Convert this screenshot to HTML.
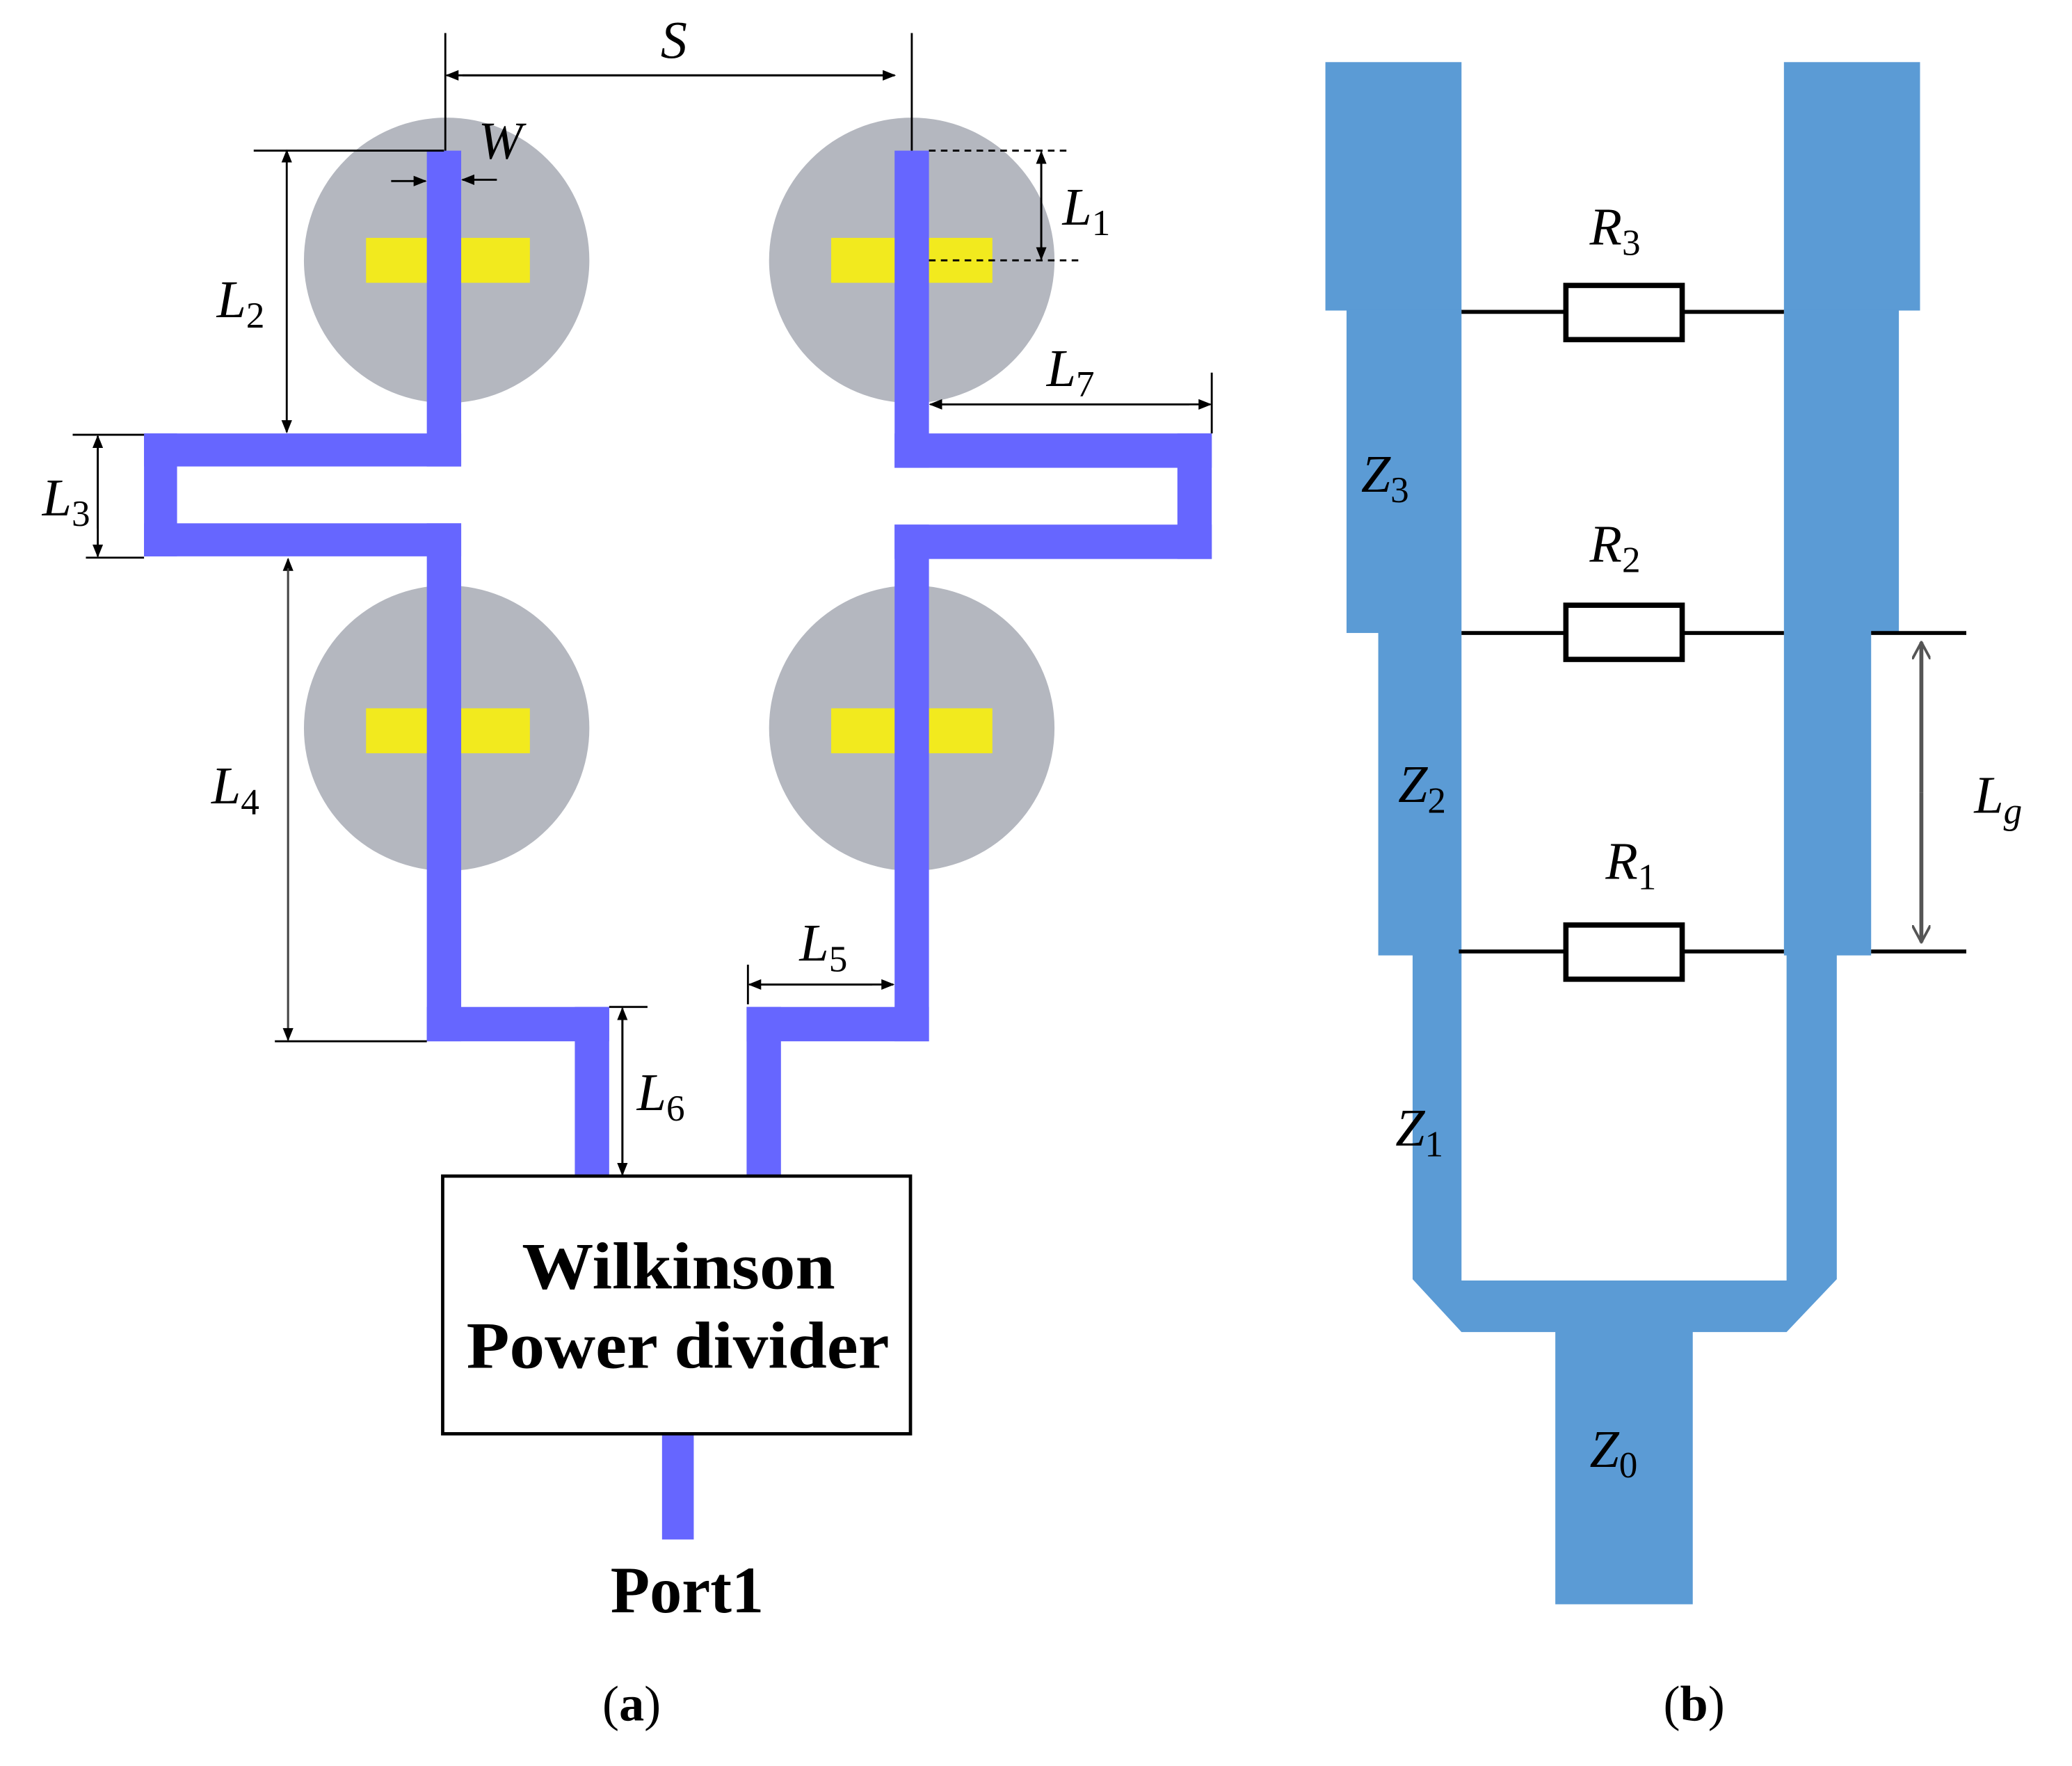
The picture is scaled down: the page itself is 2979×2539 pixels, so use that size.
<!DOCTYPE html>
<html><head><meta charset="utf-8"><style>
html,body{margin:0;padding:0;background:#fff;}
svg{display:block;}
.it{font-family:"Liberation Serif",serif;font-style:italic;font-size:40px;}
.sb{font-family:"Liberation Serif",serif;font-style:normal;font-size:28px;}
.bd{font-family:"Liberation Serif",serif;font-weight:bold;font-size:50px;}
</style></head><body>
<svg width="2979" height="2539" viewBox="0 0 1568 1336.4" xmlns="http://www.w3.org/2000/svg">
<defs>
<marker id="a" markerWidth="10" markerHeight="8" refX="9" refY="4" orient="auto" markerUnits="userSpaceOnUse"><path d="M0,0 L10,4 L0,8 Z" fill="#000"/></marker>
<marker id="g" markerWidth="14" markerHeight="14" refX="13" refY="7" orient="auto" markerUnits="userSpaceOnUse"><path d="M0,0 L13,7 L0,14" fill="none" stroke="#555" stroke-width="2"/></marker>
</defs>
<g fill="#b4b7bf">
<circle cx="338" cy="197" r="108"/><circle cx="690" cy="197" r="108"/>
<circle cx="338" cy="551" r="108"/><circle cx="690" cy="551" r="108"/>
</g>
<g fill="#f2ea1e">
<rect x="277" y="180" width="124" height="34"/><rect x="629" y="180" width="122" height="34"/>
<rect x="277" y="536" width="124" height="34"/><rect x="629" y="536" width="122" height="34"/>
</g>
<g fill="#6666ff">
<rect x="323" y="114" width="26" height="239"/>
<rect x="109" y="328" width="240" height="25"/>
<rect x="109" y="328" width="25" height="93"/>
<rect x="109" y="396" width="240" height="25"/>
<rect x="323" y="396" width="26" height="392"/>
<rect x="323" y="762" width="138" height="26"/>
<rect x="435" y="762" width="26" height="128"/>
<rect x="677" y="114" width="26" height="240"/>
<rect x="677" y="328" width="240" height="26"/>
<rect x="891" y="328" width="26" height="95"/>
<rect x="677" y="397" width="240" height="26"/>
<rect x="677" y="397" width="26" height="391"/>
<rect x="565" y="762" width="138" height="26"/>
<rect x="565" y="762" width="26" height="128"/>
<rect x="501" y="1085" width="24" height="80"/>
</g>
<rect x="335" y="890" width="354" height="195" fill="#fff" stroke="#000" stroke-width="2.5"/>
<text class="bd" x="395" y="975" textLength="237" lengthAdjust="spacingAndGlyphs">Wilkinson</text>
<text class="bd" x="353" y="1035" textLength="320" lengthAdjust="spacingAndGlyphs">Power divider</text>
<text class="bd" x="462" y="1220" textLength="116" lengthAdjust="spacingAndGlyphs">Port1</text>
<text class="bd" x="478" y="1302" text-anchor="middle" style="font-size:38px;font-weight:normal">(<tspan font-weight="bold">a</tspan>)</text>
<g stroke="#000" stroke-width="1.5" fill="none">
<line x1="337" y1="25" x2="337" y2="114"/><line x1="690" y1="25" x2="690" y2="114"/>
<line x1="350" y1="57" x2="677" y2="57" marker-end="url(#a)"/><line x1="677" y1="57" x2="338" y2="57" marker-end="url(#a)"/>
<line x1="296" y1="137" x2="322" y2="137" marker-end="url(#a)"/><line x1="376" y1="136" x2="350" y2="136" marker-end="url(#a)"/>
<line x1="192" y1="114" x2="336" y2="114"/>
<line x1="217" y1="120" x2="217" y2="114" marker-end="url(#a)"/><line x1="217" y1="114" x2="217" y2="327" marker-end="url(#a)"/>
<line x1="55" y1="329" x2="109" y2="329"/><line x1="65" y1="422" x2="109" y2="422"/>
<line x1="74" y1="400" x2="74" y2="330" marker-end="url(#a)"/><line x1="74" y1="340" x2="74" y2="421" marker-end="url(#a)"/>
<line x1="218" y1="780" x2="218" y2="423" marker-end="url(#a)" stroke="#444"/><line x1="218" y1="430" x2="218" y2="787" marker-end="url(#a)" stroke="#444"/>
<line x1="208" y1="788" x2="323" y2="788"/>
<line x1="703" y1="114" x2="810" y2="114" stroke-dasharray="5,4"/><line x1="703" y1="197" x2="820" y2="197" stroke-dasharray="5,4"/>
<line x1="788" y1="190" x2="788" y2="115" marker-end="url(#a)"/><line x1="788" y1="120" x2="788" y2="196" marker-end="url(#a)"/>
<line x1="917" y1="282" x2="917" y2="328"/>
<line x1="900" y1="306" x2="704" y2="306" marker-end="url(#a)"/><line x1="710" y1="306" x2="916" y2="306" marker-end="url(#a)"/>
<line x1="566" y1="730" x2="566" y2="760"/>
<line x1="660" y1="745" x2="567" y2="745" marker-end="url(#a)"/><line x1="575" y1="745" x2="676" y2="745" marker-end="url(#a)"/>
<line x1="461" y1="762" x2="490" y2="762"/>
<line x1="471" y1="880" x2="471" y2="763" marker-end="url(#a)"/><line x1="471" y1="770" x2="471" y2="889" marker-end="url(#a)"/>
</g>
<text class="it" x="500" y="44">S</text>
<text class="it" x="362" y="120">W</text>
<text class="it" x="164" y="240">L<tspan class="sb" dy="8">2</tspan></text>
<text class="it" x="32" y="390">L<tspan class="sb" dy="8">3</tspan></text>
<text class="it" x="160" y="608">L<tspan class="sb" dy="8">4</tspan></text>
<text class="it" x="804" y="170">L<tspan class="sb" dy="8">1</tspan></text>
<text class="it" x="792" y="292">L<tspan class="sb" dy="8">7</tspan></text>
<text class="it" x="605" y="727">L<tspan class="sb" dy="8">5</tspan></text>
<text class="it" x="482" y="840">L<tspan class="sb" dy="8">6</tspan></text>
<g fill="#5b9bd5">
<rect x="1003" y="47" width="103" height="188"/>
<rect x="1019" y="234" width="87" height="245"/>
<rect x="1043" y="478" width="63" height="245"/>
<rect x="1350" y="47" width="103" height="188"/>
<rect x="1350" y="234" width="87" height="245"/>
<rect x="1350" y="478" width="66" height="245"/>
<path d="M1069,722 L1106,722 L1106,969 L1352,969 L1352,722 L1390,722 L1390,968 L1352,1008 L1281,1008 L1281,1214 L1177,1214 L1177,1008 L1106,1008 L1069,968 Z"/>
</g>
<g stroke="#000" stroke-width="3" fill="none">
<line x1="1106" y1="236" x2="1350" y2="236"/><line x1="1106" y1="479" x2="1350" y2="479"/><line x1="1104" y1="720" x2="1350" y2="720"/>
<line x1="1416" y1="479" x2="1488" y2="479"/><line x1="1416" y1="720" x2="1488" y2="720"/>
</g>
<g fill="#fff" stroke="#000" stroke-width="4">
<rect x="1185" y="216" width="88" height="41"/><rect x="1185" y="458" width="88" height="41"/><rect x="1185" y="700" width="88" height="41"/>
</g>
<line x1="1454" y1="600" x2="1454" y2="486" stroke="#555" stroke-width="3" marker-end="url(#g)"/>
<line x1="1454" y1="600" x2="1454" y2="713" stroke="#555" stroke-width="3" marker-end="url(#g)"/>
<text class="it" x="1203" y="185">R<tspan class="sb" dy="8">3</tspan></text>
<text class="it" x="1203" y="425">R<tspan class="sb" dy="8">2</tspan></text>
<text class="it" x="1215" y="665">R<tspan class="sb" dy="8">1</tspan></text>
<text class="it" x="1030" y="372">Z<tspan class="sb" dy="8">3</tspan></text>
<text class="it" x="1058" y="607">Z<tspan class="sb" dy="8">2</tspan></text>
<text class="it" x="1056" y="867">Z<tspan class="sb" dy="8">1</tspan></text>
<text class="it" x="1203" y="1110">Z<tspan class="sb" dy="8">0</tspan></text>
<text class="it" x="1494" y="615">L<tspan class="sb" dy="8" style="font-style:italic">g</tspan></text>
<text class="bd" x="1282" y="1302" text-anchor="middle" style="font-size:38px;font-weight:normal">(<tspan font-weight="bold">b</tspan>)</text>
</svg>
</body></html>
